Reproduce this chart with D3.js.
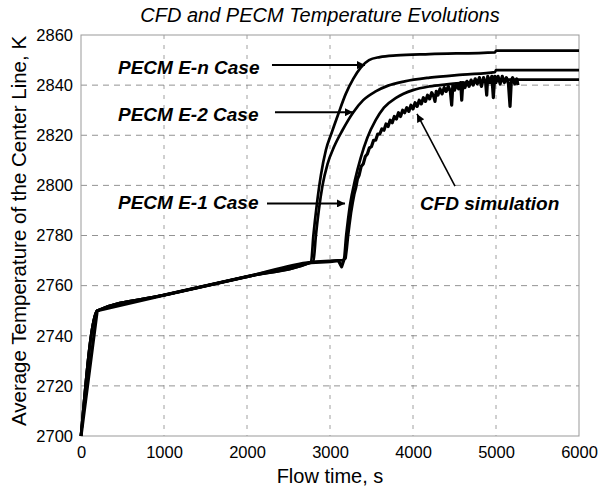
<!DOCTYPE html>
<html>
<head>
<meta charset="utf-8">
<script src="https://cdn.jsdelivr.net/npm/d3@7"></script>
<style>
    body { margin: 0; background: #fff; }
    #chart-area { width: 600px; height: 488px; }
    text { font-family: "Liberation Sans", Arial, sans-serif; fill: #000; }
</style>
</head>
<body>
<div id="chart-area"></div>
<script>

// axis ticks
const xTicks = [0, 1000, 2000, 3000, 4000, 5000, 6000];
const yTicks = [2700, 2720, 2740, 2760, 2780, 2800, 2820, 2840, 2860];

// shared warm-up part of every run
const baseTime = [0, 195, 1000, 2000];
const baseTemp = [2700, 2750, 2756.2, 2763.6];

// PECM E-n case
const enTime = [2771, 2800, 2840, 2890, 2950, 3020, 3100, 3190, 3280, 3370, 3470, 3600, 3800, 4200, 4990, 5000, 6000];
const enTemp = [2769.4, 2780, 2792, 2804, 2814, 2821, 2828.5, 2836.5, 2842.5, 2847, 2850, 2851.2, 2851.9, 2852.4, 2853.1, 2853.8, 2853.8];

// PECM E-2 case
const e2Time = [2800, 2830, 2865, 2910, 2970, 3050, 3150, 3277, 3400, 3550, 3700, 3900, 4200, 4600, 4988, 5000, 6000];
const e2Temp = [2769.7, 2780, 2790, 2800, 2808.5, 2815.5, 2822, 2829, 2834, 2837.5, 2839.8, 2841.5, 2843, 2844.2, 2845.2, 2846, 2846];

// PECM E-1 case
const e1Time = [2771, 3000, 3165, 3195, 3240, 3300, 3370, 3450, 3550, 3650, 3800, 4000, 4200, 4406, 4700, 4988, 5000, 6000];
const e1Temp = [2769.4, 2769.9, 2770.2, 2780, 2792, 2802, 2811, 2819, 2826, 2831, 2835, 2838, 2839.5, 2840.3, 2841.2, 2841.7, 2842.2, 2842.2];

// CFD simulation (noisy)
const cfdTime = [2771, 3000, 3100, 3140, 3170, 3185, 3200, 3215, 3230, 3250, 3270, 3290, 3310, 3330, 3350, 3375,
    3400, 3425, 3450, 3475, 3500, 3525, 3550, 3575, 3600, 3625, 3650, 3675, 3700, 3725, 3750, 3775, 3800, 3825,
    3850, 3875, 3900, 3925, 3950, 3975, 4000, 4025, 4050, 4075, 4100, 4125, 4150, 4175, 4200, 4225, 4250, 4265,
    4280, 4300, 4325, 4350, 4375, 4400, 4425, 4450, 4466, 4480, 4500, 4525, 4550, 4575, 4587, 4600, 4625, 4650,
    4675, 4700, 4725, 4750, 4775, 4800, 4825, 4850, 4875, 4888, 4900, 4925, 4950, 4968, 4985, 5000, 5025, 5050,
    5075, 5100, 5125, 5150, 5169, 5185, 5200, 5225, 5250, 5265];
const cfdTemp = [2769.2, 2769.6, 2770, 2767.5, 2770.5, 2771, 2775, 2780, 2784, 2789, 2793, 2796.5, 2799, 2802.5, 2804, 2807.5,
    2808.5, 2811.5, 2812.5, 2815, 2815.5, 2818, 2818, 2820.5, 2820.5, 2822.5, 2822, 2824.5, 2823.5, 2826, 2825, 2827.5, 2826.5, 2829,
    2827.5, 2830, 2829, 2831, 2829.5, 2832, 2830.5, 2833, 2831.5, 2834, 2832.5, 2835, 2833.5, 2836, 2834.5, 2837, 2835.5, 2833.5,
    2837.5, 2836, 2838.5, 2836.5, 2839, 2837.5, 2839.5, 2837.5, 2832, 2840, 2838, 2840.5, 2838.5, 2841, 2834, 2841, 2839, 2841.5,
    2839.5, 2842, 2840, 2842.5, 2840.5, 2843, 2839.5, 2843, 2841, 2836, 2843.5, 2841, 2843.5, 2835, 2843.5, 2841, 2843.5, 2840.5,
    2843.5, 2841, 2843, 2840.5, 2831.5, 2842, 2843, 2840.5, 2842.5, 2840];

// labels with arrows, in data units: text start, text baseline, arrow start, arrow end
const labelNames = ["PECM E-n Case", "PECM E-2 Case", "PECM E-1 Case"];
const labelTime = [446, 446, 446];
const labelTemp = [2844.4, 2825.8, 2790.4];
const arrowFrom = [2301, 2337, 2241];
const arrowTo = [3422, 3277, 3181];
const arrowTemp = [2848.0, 2829.2, 2792.8];

// CFD label and its pointer
const cfdLabel = {text: "CFD simulation", t: 4084, T: 2790.2};
const cfdPointer = {t1: 4506, T1: 2799.7, t2: 4048, T2: 2828.5};


class TempVis {

    constructor(parentElement) {
        this.parentElement = parentElement;
        this.initVis();
    }

    initVis() {
        let vis = this;

        vis.margin = {top: 35, right: 21, bottom: 52, left: 81};
        vis.width = 600 - vis.margin.left - vis.margin.right;
        vis.height = 488 - vis.margin.top - vis.margin.bottom;

        vis.root = d3.select("#" + vis.parentElement).append("svg")
            .attr("width", 600)
            .attr("height", 488);

        vis.svg = vis.root.append("g")
            .attr("transform", `translate(${vis.margin.left}, ${vis.margin.top})`);

        vis.x = d3.scaleLinear().domain([0, 6000]).range([0, vis.width]);
        vis.y = d3.scaleLinear().domain([2700, 2860]).range([vis.height, 0]);

        // arrow head
        vis.root.append("defs").append("marker")
            .attr("id", "head")
            .attr("viewBox", "0 0 10 10")
            .attr("refX", 10)
            .attr("refY", 5)
            .attr("markerUnits", "userSpaceOnUse")
            .attr("markerWidth", 11)
            .attr("markerHeight", 8)
            .attr("orient", "auto")
            .append("path")
            .attr("d", "M0,0 L10,5 L0,10 Z")
            .attr("fill", "#000");

        // grid
        vis.svg.selectAll(".vgrid")
            .data(xTicks.slice(1, -1))
            .enter().append("line")
            .attr("class", "vgrid")
            .attr("x1", d => vis.x(d)).attr("x2", d => vis.x(d))
            .attr("y1", 0).attr("y2", vis.height)
            .attr("stroke", "#888").attr("stroke-width", 0.8)
            .attr("stroke-dasharray", "4,6");

        vis.svg.selectAll(".hgrid")
            .data(yTicks.slice(1, -1))
            .enter().append("line")
            .attr("class", "hgrid")
            .attr("x1", 0).attr("x2", vis.width)
            .attr("y1", d => vis.y(d)).attr("y2", d => vis.y(d))
            .attr("stroke", "#777").attr("stroke-width", 0.8)
            .attr("stroke-dasharray", "6,5");

        // frame
        vis.svg.append("rect")
            .attr("width", vis.width)
            .attr("height", vis.height)
            .attr("fill", "none")
            .attr("stroke", "#999")
            .attr("stroke-width", 1);

        // axes (labels only)
        let xAxis = d3.axisBottom(vis.x).tickValues(xTicks).tickSize(0).tickPadding(10).tickFormat(d3.format("d"));
        let yAxis = d3.axisLeft(vis.y).tickValues(yTicks).tickSize(0).tickPadding(8).tickFormat(d3.format("d"));

        vis.svg.append("g")
            .attr("class", "axis")
            .attr("transform", `translate(0, ${vis.height})`)
            .call(xAxis);
        vis.svg.append("g")
            .attr("class", "axis")
            .call(yAxis);

        vis.svg.selectAll(".axis .domain").remove();
        vis.svg.selectAll(".axis text")
            .attr("font-size", "16.5px")
            .attr("font-family", "Liberation Sans, Arial, sans-serif")
            .attr("fill", "#000");

        // titles
        vis.root.append("text")
            .attr("x", 320).attr("y", 22)
            .attr("text-anchor", "middle")
            .attr("font-size", "20px")
            .attr("font-style", "italic")
            .text("CFD and PECM Temperature Evolutions");

        vis.root.append("text")
            .attr("x", 330).attr("y", 483)
            .attr("text-anchor", "middle")
            .attr("font-size", "20px")
            .text("Flow time, s");

        vis.root.append("text")
            .attr("transform", "translate(25.5, 231) rotate(-90)")
            .attr("text-anchor", "middle")
            .attr("font-size", "20.5px")
            .text("Average Temperature of the Center Line, K");

        vis.line = d3.line()
            .x(d => vis.x(d[0]))
            .y(d => vis.y(d[1]));

        vis.wrangleData();
    }

    wrangleData() {
        let vis = this;

        let zip = (ts, vs) => baseTime.concat(ts).map((t, i) => [t, baseTemp.concat(vs)[i]]);

        vis.pecmData = [zip(enTime, enTemp), zip(e2Time, e2Temp), zip(e1Time, e1Temp)];
        vis.cfdData = zip(cfdTime, cfdTemp);

        vis.updateVis();
    }

    updateVis() {
        let vis = this;

        vis.svg.append("path")
            .datum(vis.cfdData)
            .attr("d", vis.line)
            .attr("fill", "none")
            .attr("stroke", "#000")
            .attr("stroke-width", 3.2)
            .attr("stroke-linejoin", "round");

        vis.svg.selectAll(".pecm")
            .data(vis.pecmData)
            .enter().append("path")
            .attr("class", "pecm")
            .attr("d", vis.line.curve(d3.curveMonotoneX))
            .attr("fill", "none")
            .attr("stroke", "#000")
            .attr("stroke-width", 2.7);

        // case labels and arrows
        vis.svg.selectAll(".case-label")
            .data(labelNames)
            .enter().append("text")
            .attr("class", "case-label")
            .attr("x", (d, i) => vis.x(labelTime[i]))
            .attr("y", (d, i) => vis.y(labelTemp[i]))
            .attr("font-size", "19px")
            .attr("font-weight", "bold")
            .attr("font-style", "italic")
            .text(d => d);

        vis.svg.selectAll(".case-arrow")
            .data(labelNames)
            .enter().append("line")
            .attr("class", "case-arrow")
            .attr("x1", (d, i) => vis.x(arrowFrom[i]))
            .attr("x2", (d, i) => vis.x(arrowTo[i]))
            .attr("y1", (d, i) => vis.y(arrowTemp[i]))
            .attr("y2", (d, i) => vis.y(arrowTemp[i]))
            .attr("stroke", "#000")
            .attr("stroke-width", 2)
            .attr("marker-end", "url(#head)");

        vis.svg.append("text")
            .attr("x", vis.x(cfdLabel.t))
            .attr("y", vis.y(cfdLabel.T))
            .attr("font-size", "19px")
            .attr("font-weight", "bold")
            .attr("font-style", "italic")
            .text(cfdLabel.text);

        vis.svg.append("line")
            .attr("x1", vis.x(cfdPointer.t1)).attr("y1", vis.y(cfdPointer.T1))
            .attr("x2", vis.x(cfdPointer.t2)).attr("y2", vis.y(cfdPointer.T2))
            .attr("stroke", "#000")
            .attr("stroke-width", 1.6)
            .attr("marker-end", "url(#head)");
    }
}

new TempVis("chart-area");

</script>
</body>
</html>
